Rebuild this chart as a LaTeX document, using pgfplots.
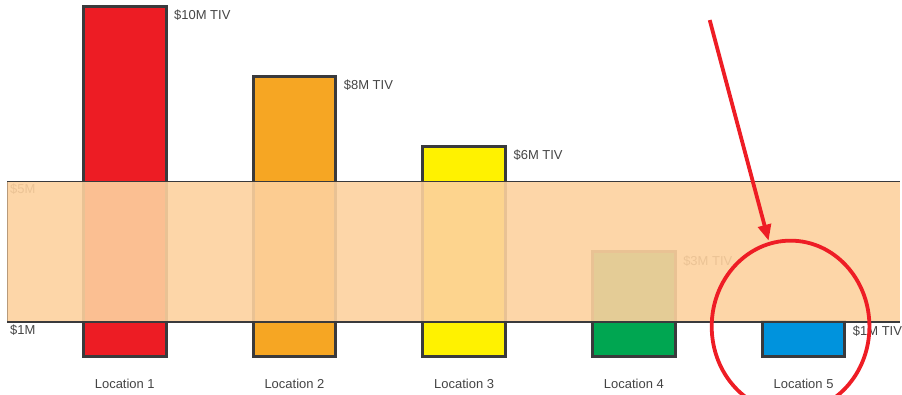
\documentclass[border=0pt]{standalone}
\usepackage{pgfplots}
\pgfplotsset{compat=1.18}
\usepackage{fontspec}
\setmainfont{Liberation Sans}
\usetikzlibrary{arrows.meta}

\definecolor{tivred}{HTML}{ED1C24}
\definecolor{tivorange}{HTML}{F6A623}
\definecolor{tivyellow}{HTML}{FFF200}
\definecolor{tivgreen}{HTML}{00A651}
\definecolor{tivblue}{HTML}{0093DD}
\definecolor{outline}{HTML}{3A3A3C}
\definecolor{bandfill}{HTML}{FDD19E}
\definecolor{bandedge}{HTML}{B89A7A}
\definecolor{labelgray}{HTML}{444444}
\definecolor{markred}{HTML}{EE1D25}

\newcommand\lab{\fontsize{13}{15}\selectfont}

\begin{document}
\begin{tikzpicture}
\begin{axis}[
  set layers,
  scale only axis, width=902pt, height=395pt,
  xmin=-0.7353, xmax=4.5706,
  ymin=-1.0669, ymax=10.1707,
  axis line style={draw=none},
  major tick length=0pt,
  ytick=\empty,
  xtick={0,1,2,3,4},
  xticklabels={Location 1,Location 2,Location 3,Location 4,Location 5},
  xticklabel style={font=\lab, text=labelgray, anchor=center, yshift=11pt},
  /pgf/number format/assume math mode=true,
  ybar, bar width=83pt, bar shift=0pt,
  clip=true,
  every axis plot/.append style={draw=outline, line width=3pt},
  nodes near coords={\$\pgfmathprintnumber{\pgfplotspointmeta}M TIV},
  every node near coord/.append style={anchor=west, xshift=48pt, yshift=-9pt,
    font=\lab, text=labelgray, inner sep=0pt},
]
% total insured value per location, in $M
\addplot[fill=tivred]    coordinates {(0,10)};
\addplot[fill=tivorange] coordinates {(1,8)};
\addplot[fill=tivyellow] coordinates {(2,6)};
\addplot[fill=tivgreen]  coordinates {(3,3)};
\addplot[fill=tivblue]   coordinates {(4,1)};

% upper limit of the band, set underneath the band
\node[anchor=west, font=\lab, text=labelgray, inner sep=0pt]
  at (axis cs:-0.694,5) [xshift=3pt, yshift=-8pt] {\$5M};

\begin{pgfonlayer}{axis foreground}
\begin{scope}
\clip (rel axis cs:0,0) rectangle (rel axis cs:1,1);
% $1M--$5M band laid over the bars and their labels
\fill[bandfill, opacity=0.9] (axis cs:-0.694,1) rectangle (axis cs:4.5706,5);
\draw[bandedge, line width=0.8pt] (axis cs:-0.694,1) -- (axis cs:-0.694,5);
\draw[outline, line width=1.8pt] (axis cs:-0.694,5) -- (axis cs:4.5706,5);
\draw[outline, line width=1.6pt] (axis cs:-0.694,1) -- (axis cs:4.5706,1);

\node[anchor=west, font=\lab, text=labelgray, inner sep=0pt]
  at (axis cs:-0.694,1) [xshift=3pt, yshift=-8pt] {\$1M};

% highlight of the location below the band
\draw[markred, line width=3.8pt, -{Triangle[length=16pt,width=13pt]}]
  (axis cs:3.447,9.602) -- (axis cs:3.794,3.314);
\draw[markred, line width=3.8pt]
  (axis cs:3.9235,0.868) ellipse [x radius=79pt, y radius=86pt];
\end{scope}
\end{pgfonlayer}
\end{axis}
\end{tikzpicture}
\end{document}
